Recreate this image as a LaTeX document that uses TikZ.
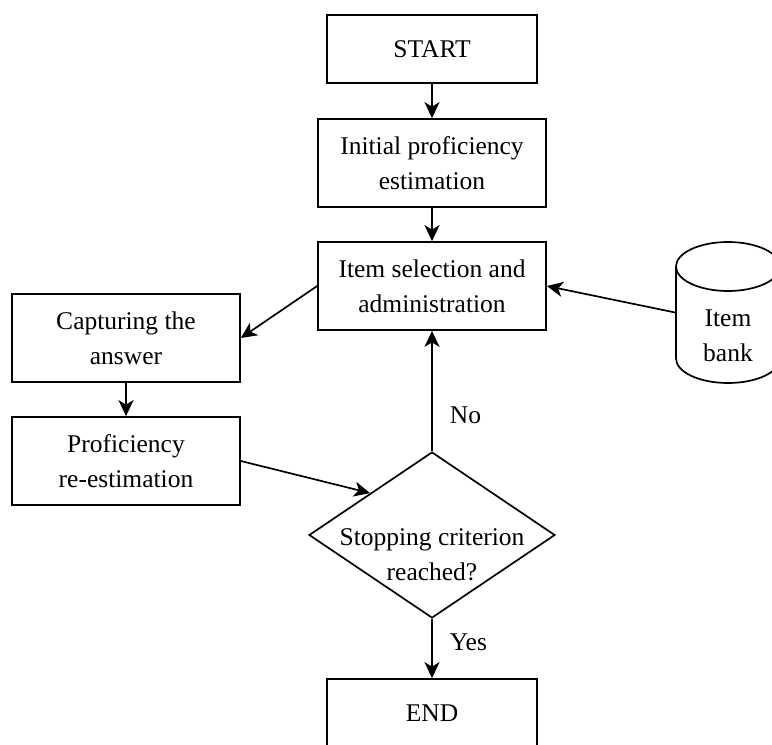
\documentclass[tikz,border=0pt]{standalone}
\usepackage{fontspec}
\setmainfont{Liberation Serif}
\usetikzlibrary{shapes.geometric,arrows.meta}
\begin{document}
\begin{tikzpicture}[x=1pt,y=-1pt,
  line width=1.7pt,
  every node/.style={font=\fontsize{25.5}{35}\selectfont, align=center, inner sep=0pt},
  procbox/.style={draw, rectangle, minimum width=228, minimum height=88},
  termbox/.style={draw, rectangle, minimum width=210, minimum height=68},
  decision/.style={draw, diamond, minimum width=246, minimum height=166},
  flow/.style={-{Stealth[length=16pt,width=15pt,inset=4.5pt]}},
  edgelabel/.style={anchor=base west}
]
\clip (0,0) rectangle (772,745);
\useasboundingbox (0,0) rectangle (772,745);

% process steps
\node[termbox] (start) at (432,49) {START};
\node[procbox] (init) at (432,163) {Initial proficiency\\estimation};
\node[procbox] (item) at (432,286) {Item selection and\\administration};
\node[procbox] (capt) at (126,338) {Capturing the\\answer};
\node[procbox] (prof) at (126,461) {Proficiency\\re-estimation};
\node[decision] (stop) at (432,535) {};
\node at (432,555) {Stopping criterion\\reached?};
\node[termbox] (end) at (432,713) {END};

% item bank drawn as an upright cylinder
\node[rectangle, minimum width=104, minimum height=141] (bank) at (728,312.5) {};
\draw (728,266.5) ellipse [x radius=52, y radius=24.5];
\draw (676,266.5) -- (676,358.5) arc [start angle=180, end angle=360, x radius=52, y radius=-24.5] -- (780,266.5);
\node at (728,336) {Item\\bank};

% connectors
\draw[flow] (start) -- (init);
\draw[flow] (init) -- (item);
\draw[flow] (item.west) -- (capt.east);
\draw[flow] (capt) -- (prof);
\draw[flow] (prof.east) -- (stop.north west);
\draw[flow] (stop.north) -- (item.south);
\draw[flow] (stop.south) -- (end.north);
\draw[flow] (bank.west) -- (item.east);

% branch labels
\node[edgelabel] (nolabel) at (449,423) {No};
\node[edgelabel] (yeslabel) at (449,650) {Yes};
\end{tikzpicture}
\end{document}
